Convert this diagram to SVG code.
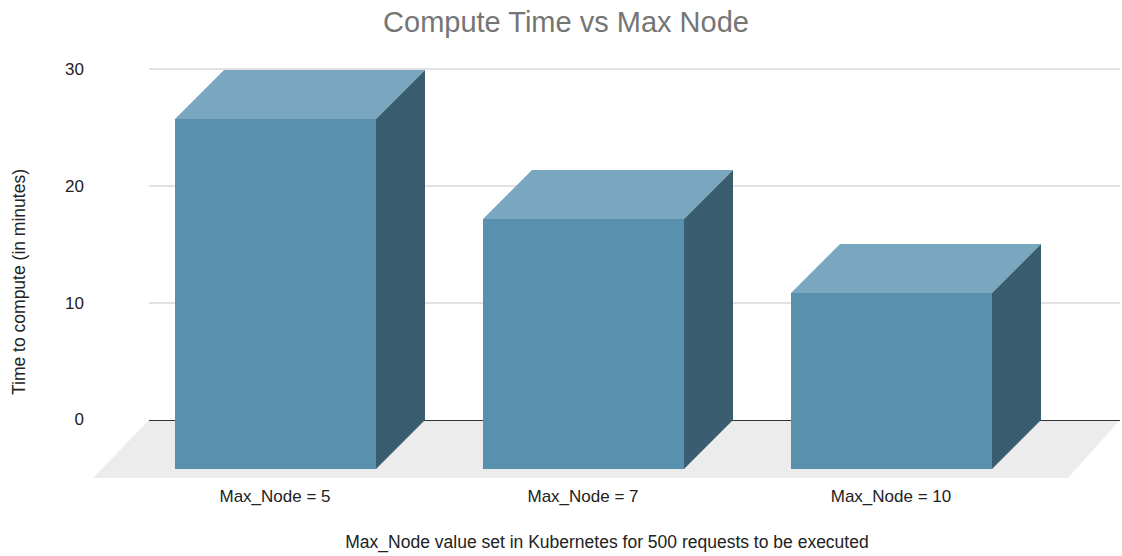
<svg xmlns="http://www.w3.org/2000/svg" width="1122" height="556" viewBox="0 0 1122 556">
  <style>
    text { font-family: "Liberation Sans", Arial, sans-serif; fill: #222222; }
    .title { font-size: 29px; fill: #757575; text-anchor: middle; }
    .tick { font-size: 17px; text-anchor: end; }
    .cat { font-size: 17px; text-anchor: middle; }
    .axis { font-size: 17.5px; text-anchor: middle; }
    .grid { stroke: #d9d9d9; stroke-width: 1.5; }
    .front { fill: #5990ae; }
    .top { fill: #79a7bf; }
    .side { fill: #3a5e6f; }
  </style>
  <rect width="1122" height="556" fill="#ffffff"/>

  <text class="title" x="566" y="32">Compute Time vs Max Node</text>

  <!-- gridlines -->
  <g id="grid">
    <line class="grid" x1="149" y1="69" x2="1120" y2="69"/>
    <line class="grid" x1="149" y1="186" x2="1120" y2="186"/>
    <line class="grid" x1="149" y1="303" x2="1120" y2="303"/>
  </g>

  <!-- floor plane and zero line -->
  <polygon id="floor" points="149,420 1120,420 1068,478 93,478" fill="#ececec"/>
  <line x1="149" y1="420.5" x2="1120" y2="420.5" stroke="#333333" stroke-width="1.2"/>

  <!-- y-axis tick labels -->
  <g id="ticks">
    <text class="tick" x="84" y="75">30</text>
    <text class="tick" x="84" y="192">20</text>
    <text class="tick" x="84" y="309">10</text>
    <text class="tick" x="84" y="425">0</text>
  </g>

  <!-- bars -->
  <g id="bar-5">
    <polygon class="top" points="175,119 224,70 425,70 376,119"/>
    <polygon class="side" points="376,119 425,70 425,420 376,469"/>
    <rect class="front" x="175" y="119" width="201" height="350"/>
  </g>
  <g id="bar-7">
    <polygon class="top" points="483,219 532,170 733,170 684,219"/>
    <polygon class="side" points="684,219 733,170 733,420 684,469"/>
    <rect class="front" x="483" y="219" width="201" height="250"/>
  </g>
  <g id="bar-10">
    <polygon class="top" points="791,293 840,244 1041,244 992,293"/>
    <polygon class="side" points="992,293 1041,244 1041,420 992,469"/>
    <rect class="front" x="791" y="293" width="201" height="176"/>
  </g>

  <!-- category labels -->
  <g id="categories">
    <text class="cat" x="275" y="502">Max_Node = 5</text>
    <text class="cat" x="583" y="502">Max_Node = 7</text>
    <text class="cat" x="891" y="502">Max_Node = 10</text>
  </g>

  <!-- axis titles -->
  <text class="axis" x="607" y="548">Max_Node value set in Kubernetes for 500 requests to be executed</text>
  <text class="axis" transform="translate(25,282) rotate(-90)">Time to compute (in minutes)</text>
</svg>
